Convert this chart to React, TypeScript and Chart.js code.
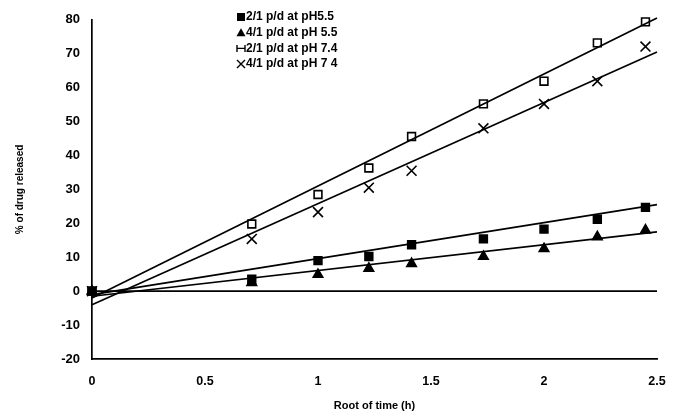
import React, { useEffect, useRef } from "react";
import { Chart, registerables } from "chart.js";

Chart.register(...registerables);

const rootTime = [0, 0.707, 1, 1.225, 1.414, 1.732, 2, 2.236, 2.449];
const ratio21pH55 = [0, 3.5, 9, 10.2, 13.7, 15.4, 18.3, 21.2, 24.7];
const ratio41pH55 = [0, 2.5, 4.9, 6.7, 8.1, 10.2, 12.5, 16, 18];
const ratio21pH74 = [0, 19.8, 28.5, 36.3, 45.6, 55.2, 61.9, 73.2, 79.4];
const ratio41pH74 = [0, 15.4, 23.3, 30.5, 35.5, 48, 55.2, 61.9, 72.1];

const trendX = [0, 2.5];
const trend21pH55 = [-1, 25.5];
const trend41pH55 = [-1.5, 17.5];
const trend21pH74 = [-2, 80.5];
const trend41pH74 = [-4, 70.5];
const zeroLine = [0, 0];

const legendLabels = [
  "2/1 p/d at pH5.5",
  "4/1 p/d at pH 5.5",
  "2/1 p/d at pH 7.4",
  "4/1 p/d at pH 7 4",
];
const xTicks = [0, 0.5, 1, 1.5, 2, 2.5];
const yTicks = [-20, -10, 0, 10, 20, 30, 40, 50, 60, 70, 80];

const FONT = "'Liberation Sans', Arial, sans-serif";

const pts = (xs: number[], ys: number[]) => xs.map((x, i) => ({ x, y: ys[i] }));

export default function App() {
  const ref = useRef<HTMLCanvasElement | null>(null);
  useEffect(() => {
    if (!ref.current) return;
    const markerDs = (data: number[], style: string, fill: string, radius: number, label: string) => ({
      label,
      data: pts(rootTime, data),
      showLine: false,
      clip: false,
      pointStyle: style,
      pointRadius: radius,
      pointBackgroundColor: fill,
      pointBorderColor: "#000",
      pointBorderWidth: 1.6,
    });
    const lineDs = (data: number[]) => ({
      label: "",
      data: pts(trendX, data),
      showLine: true,
      clip: false,
      borderColor: "#000",
      borderWidth: 1.7,
      pointRadius: 0,
      fill: false,
    });
    const legendPlugin = {
      id: "customLegend",
      afterDraw(chart: any) {
        const ctx = chart.ctx;
        ctx.save();
        const styles = ["rect", "triangle", "rectOpen", "crossRot"];
        legendLabels.forEach((t, i) => {
          const y = 17 + i * 15.7;
          const mx = 241;
          ctx.strokeStyle = "#000";
          ctx.fillStyle = "#000";
          ctx.lineWidth = 1.4;
          const s = styles[i];
          if (s === "rect") ctx.fillRect(mx - 4, y - 4, 8, 8);
          else if (s === "triangle") {
            ctx.beginPath();
            ctx.moveTo(mx, y - 4.5);
            ctx.lineTo(mx + 4.5, y + 3.5);
            ctx.lineTo(mx - 4.5, y + 3.5);
            ctx.closePath();
            ctx.fill();
          } else if (s === "rectOpen") {
            ctx.beginPath();
            ctx.moveTo(mx - 4, y - 3.5);
            ctx.lineTo(mx - 4, y + 3.5);
            ctx.moveTo(mx + 4, y - 3.5);
            ctx.lineTo(mx + 4, y + 3.5);
            ctx.moveTo(mx - 4, y);
            ctx.lineTo(mx + 4, y);
            ctx.stroke();
          } else {
            ctx.beginPath();
            ctx.moveTo(mx - 4, y - 4);
            ctx.lineTo(mx + 4, y + 4);
            ctx.moveTo(mx + 4, y - 4);
            ctx.lineTo(mx - 4, y + 4);
            ctx.stroke();
          }
          ctx.font = `bold 12px ${FONT}`;
          ctx.textBaseline = "middle";
          ctx.textAlign = "left";
          ctx.fillText(t, 246, y);
        });
        ctx.restore();
      },
    };
    const chart = new Chart(ref.current, {
      type: "scatter",
      data: {
        datasets: [
          lineDs(zeroLine),
          lineDs(trend21pH55),
          lineDs(trend41pH55),
          lineDs(trend21pH74),
          lineDs(trend41pH74),
          markerDs(ratio21pH55, "rect", "#000", 5.5, legendLabels[0]),
          markerDs(ratio41pH55, "triangle", "#000", 5.5, legendLabels[1]),
          markerDs(ratio21pH74, "rect", "#fff", 5.5, legendLabels[2]),
          markerDs(ratio41pH74, "crossRot", "#000", 7, legendLabels[3]),
        ] as any,
      },
      options: {
        animation: false,
        responsive: false,
        maintainAspectRatio: false,
        devicePixelRatio: 1,
        layout: { padding: { left: 0, top: 15, right: 27, bottom: 0 } },
        plugins: { legend: { display: false }, tooltip: { enabled: false } },
        scales: {
          x: {
            type: "linear",
            min: 0,
            max: 2.5,
            afterFit: (s: any) => { s.height = 58; },
            afterBuildTicks: (s: any) => { s.ticks = xTicks.map((v) => ({ value: v })); },
            grid: { display: false, drawTicks: false },
            border: { display: true, color: "#000", width: 1.7 },
            ticks: {
              color: "#000",
              padding: 15,
              font: { family: FONT, size: 12.5, weight: "bold" },
              callback: (v: any) => String(v),
            },
            title: {
              display: true,
              text: "Root of time (h)",
              color: "#000",
              padding: { top: 0, bottom: 4 },
              font: { family: FONT, size: 11, weight: "bold" },
            },
          },
          y: {
            type: "linear",
            min: -20,
            max: 80,
            afterFit: (s: any) => { s.width = 92; },
            afterBuildTicks: (s: any) => { s.ticks = yTicks.map((v) => ({ value: v })); },
            grid: { display: false, drawTicks: false },
            border: { display: true, color: "#000", width: 1.7 },
            ticks: {
              color: "#000",
              padding: 12,
              font: { family: FONT, size: 13, weight: "bold" },
            },
            title: {
              display: true,
              text: "% of drug released",
              color: "#000",
              padding: { top: 14, bottom: 0 },
              font: { family: FONT, size: 10, weight: "bold" },
            },
          },
        },
      },
      plugins: [legendPlugin],
    });
    return () => chart.destroy();
  }, []);
  return (
    <div style={{ position: "fixed", left: 0, top: 0, width: 684, height: 417, background: "#fff" }}>
      <canvas ref={ref} width={684} height={417} style={{ width: 684, height: 417 }} />
    </div>
  );
}
